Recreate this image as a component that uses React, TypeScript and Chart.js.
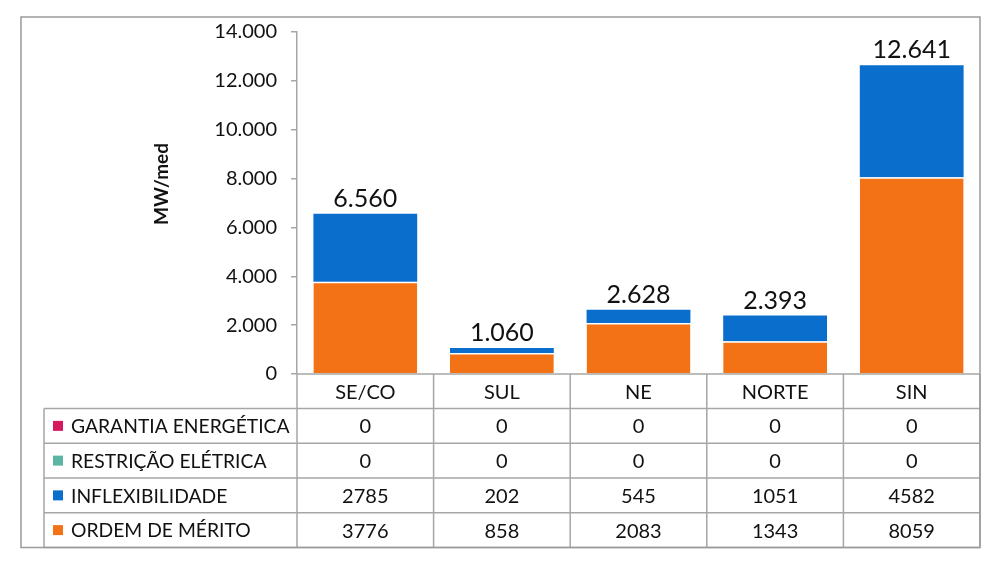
import React, { useEffect, useRef } from "react";
import { Chart, registerables } from "chart.js";

Chart.register(...registerables);

const categories = ["SE/CO", "SUL", "NE", "NORTE", "SIN"];
const ordemDeMerito = [3776, 858, 2083, 1343, 8059];
const inflexibilidade = [2785, 202, 545, 1051, 4582];
const restricaoEletrica = [0, 0, 0, 0, 0];
const garantiaEnergetica = [0, 0, 0, 0, 0];
const totals = [6560, 1060, 2628, 2393, 12641];
const yTicks = [0, 2000, 4000, 6000, 8000, 10000, 12000, 14000];

const COLORS = {
  ordem: "#F47216",
  inflex: "#0A6ECD",
  restricao: "#5BB5A2",
  garantia: "#D6195F",
};

const FONT = "Lato, 'Liberation Sans', sans-serif";
const TEXT = "#111111";
const LINE = "#a6a6a6";

const fmt = (v: number) => String(Math.round(v)).replace(/\B(?=(\d{3})+(?!\d))/g, ".");

const tableRows = [
  { label: "GARANTIA ENERGÉTICA", color: COLORS.garantia, values: garantiaEnergetica },
  { label: "RESTRIÇÃO ELÉTRICA", color: COLORS.restricao, values: restricaoEletrica },
  { label: "INFLEXIBILIDADE", color: COLORS.inflex, values: inflexibilidade },
  { label: "ORDEM DE MÉRITO", color: COLORS.ordem, values: ordemDeMerito },
];

const tablePlugin = {
  id: "tablePlugin",
  afterDraw(chart: any) {
    const ctx = chart.ctx;
    const area = chart.chartArea;
    const xs = chart.scales.x;
    const ys = chart.scales.y;
    const n = categories.length;
    const catW = (area.right - area.left) / n;
    const headerTop = area.bottom;
    const headerH = 34.5;
    const rowH = 34.75;
    const tableLeft = 44;
    ctx.save();

    // totals above bars
    ctx.fillStyle = TEXT;
    ctx.font = `25px ${FONT}`;
    ctx.textAlign = "center";
    ctx.textBaseline = "alphabetic";
    for (let i = 0; i < n; i++) {
      const stackTop =
        ordemDeMerito[i] + inflexibilidade[i] + restricaoEletrica[i] + garantiaEnergetica[i];
      const y = ys.getPixelForValue(stackTop);
      ctx.fillText(fmt(totals[i]), xs.getPixelForValue(i), y - 7);
    }

    // axis title
    ctx.save();
    ctx.translate(162, 184);
    ctx.rotate(-Math.PI / 2);
    ctx.font = `bold 19px ${FONT}`;
    ctx.textAlign = "center";
    ctx.textBaseline = "middle";
    ctx.fillText("MW/med", 0, 0);
    ctx.restore();

    // table grid
    ctx.strokeStyle = LINE;
    ctx.lineWidth = 1.5;
    const bottom = headerTop + headerH + rowH * tableRows.length;
    ctx.beginPath();
    ctx.moveTo(area.left, headerTop);
    ctx.lineTo(area.right, headerTop);
    for (let r = 0; r <= tableRows.length; r++) {
      const y = headerTop + headerH + r * rowH;
      ctx.moveTo(tableLeft, y);
      ctx.lineTo(area.right, y);
    }
    for (let i = 0; i <= n; i++) {
      const x = area.left + i * catW;
      ctx.moveTo(x, headerTop);
      ctx.lineTo(x, bottom);
    }
    ctx.moveTo(tableLeft, headerTop + headerH);
    ctx.lineTo(tableLeft, bottom);
    ctx.stroke();

    // header texts
    ctx.font = `20px ${FONT}`;
    ctx.fillStyle = TEXT;
    ctx.textAlign = "center";
    ctx.textBaseline = "middle";
    for (let i = 0; i < n; i++) {
      ctx.fillText(categories[i], xs.getPixelForValue(i), headerTop + headerH / 2 + 1);
    }
    tableRows.forEach((row, r) => {
      const cy = headerTop + headerH + r * rowH + rowH / 2 + 1;
      ctx.fillStyle = row.color;
      ctx.fillRect(53, cy - 6, 10, 10);
      ctx.fillStyle = TEXT;
      ctx.textAlign = "left";
      ctx.font = `19.3px ${FONT}`;
      ctx.fillText(row.label, 71, cy);
      ctx.font = `20px ${FONT}`;
      ctx.textAlign = "center";
      for (let i = 0; i < n; i++) {
        ctx.fillText(String(row.values[i]), xs.getPixelForValue(i), cy);
      }
    });

    // outer frame
    ctx.strokeStyle = "#9a9a9a";
    ctx.lineWidth = 1.5;
    ctx.strokeRect(21, 17, area.right - 21, bottom - 17);
    ctx.restore();
  },
};

export default function App() {
  const ref = useRef<HTMLCanvasElement | null>(null);
  useEffect(() => {
    if (!ref.current) return;
    const chart = new Chart(ref.current, {
      type: "bar",
      data: {
        labels: categories,
        datasets: [
          {
            label: "ORDEM DE MÉRITO",
            data: ordemDeMerito,
            backgroundColor: COLORS.ordem,
            borderColor: "#ffffff",
            borderWidth: { top: 1.5, left: 0, right: 0, bottom: 0 },
          },
          {
            label: "INFLEXIBILIDADE",
            data: inflexibilidade,
            backgroundColor: COLORS.inflex,
            borderWidth: 0,
          },
          {
            label: "RESTRIÇÃO ELÉTRICA",
            data: restricaoEletrica,
            backgroundColor: COLORS.restricao,
            borderWidth: 0,
          },
          {
            label: "GARANTIA ENERGÉTICA",
            data: garantiaEnergetica,
            backgroundColor: COLORS.garantia,
            borderWidth: 0,
          },
        ],
      },
      options: {
        responsive: false,
        animation: false,
        devicePixelRatio: 1,
        layout: { padding: { left: 21, top: 32, right: 24, bottom: 199 } },
        plugins: {
          legend: { display: false },
          tooltip: { enabled: false },
        },
        datasets: { bar: { categoryPercentage: 1, barPercentage: 0.76 } } as any,
        scales: {
          x: {
            stacked: true,
            display: false,
          },
          y: {
            stacked: true,
            min: 0,
            max: 14000,
            afterFit: (scale: any) => {
              scale.width = 276;
            },
            afterBuildTicks: (scale: any) => {
              scale.ticks = yTicks.map((v) => ({ value: v }));
            },
            ticks: {
              padding: 14,
              color: TEXT,
              font: { family: FONT, size: 20 },
              callback: (v: any) => fmt(Number(v)),
            },
            grid: {
              display: true,
              drawOnChartArea: false,
              drawTicks: true,
              tickLength: 6,
              color: LINE,
              lineWidth: 1.5,
            },
            border: { display: true, color: LINE, width: 1.5 },
          },
        },
      },
      plugins: [tablePlugin],
    });
    return () => chart.destroy();
  }, []);
  return (
    <div style={{ position: "absolute", left: 0, top: 0, width: 1004, height: 573, background: "#fff" }}>
      <canvas ref={ref} width={1004} height={573} style={{ width: 1004, height: 573, display: "block" }} />
    </div>
  );
}
